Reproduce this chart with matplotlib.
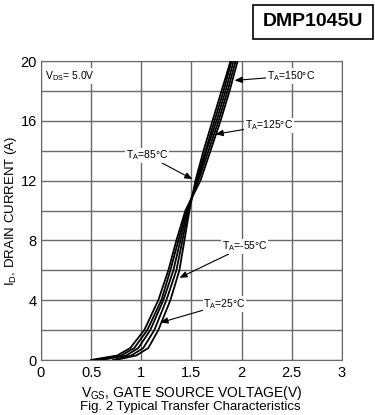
import numpy as np
import matplotlib
matplotlib.use("Agg")
import matplotlib.pyplot as plt
from matplotlib.patches import Rectangle

plt.rcParams["font.family"] = ["Liberation Sans", "DejaVu Sans"]

# drain current levels (A) and gate voltage (V) read for each temperature
id_levels = [0, 0.3, 0.8, 2, 4, 6, 8, 10, 12, 14, 16, 18, 20]
vgs_150 = [0.50, 0.76, 0.89, 1.03, 1.17, 1.27, 1.35, 1.44, 1.59, 1.69, 1.79, 1.88, 1.96]
vgs_125 = [0.52, 0.80, 0.93, 1.06, 1.20, 1.29, 1.37, 1.45, 1.57, 1.67, 1.77, 1.86, 1.94]
vgs_85 = [0.60, 0.85, 0.97, 1.09, 1.22, 1.32, 1.39, 1.46, 1.56, 1.65, 1.75, 1.84, 1.92]
vgs_25 = [0.72, 0.90, 1.02, 1.13, 1.25, 1.35, 1.41, 1.47, 1.55, 1.64, 1.73, 1.82, 1.90]
vgs_m55 = [0.74, 0.95, 1.07, 1.17, 1.29, 1.38, 1.43, 1.48, 1.54, 1.62, 1.71, 1.80, 1.89]

x_ticks = [0, 0.5, 1, 1.5, 2, 2.5, 3]
x_ticklabels = ["0", "0.5", "1", "1.5", "2", "2.5", "3"]
y_ticks = [0, 4, 8, 12, 16, 20]

# label text, text position, arrow tip
labels = [
    ("T$_\\mathregular{A}$=150°C", (2.49, 19.0), (1.93, 18.7)),
    ("T$_\\mathregular{A}$=125°C", (2.27, 15.7), (1.74, 15.1)),
    ("T$_\\mathregular{A}$=85°C", (1.06, 13.7), (1.51, 12.1)),
    ("T$_\\mathregular{A}$=-55°C", (2.03, 7.6), (1.38, 5.5)),
    ("T$_\\mathregular{A}$=25°C", (1.83, 3.75), (1.19, 2.5)),
]

fig = plt.figure(figsize=(3.75, 4.15), dpi=100)
ax = fig.add_axes([0.109, 0.1325, 0.803, 0.7205])

for v in [vgs_150, vgs_125, vgs_85, vgs_25, vgs_m55]:
    ax.plot(v, id_levels, color="black", lw=1.3, solid_joinstyle="round", zorder=3)

ax.set_xlim(0, 3)
ax.set_ylim(0, 20)
ax.set_xticks(x_ticks)
ax.set_xticklabels(x_ticklabels)
ax.set_yticks(y_ticks)
ax.set_yticks(np.arange(0, 21, 2), minor=True)
ax.tick_params(which="both", length=0, labelsize=10.5, pad=4)
ax.tick_params(axis="y", pad=3)
ax.grid(True, which="both", color="#6a6a6a", lw=1)
for s in ax.spines.values():
    s.set_color("#6a6a6a")

ax.set_xlabel("V$_\\mathregular{GS}$, GATE SOURCE VOLTAGE(V)", fontsize=10, labelpad=3)
ax.set_ylabel("I$_\\mathregular{D}$, DRAIN CURRENT (A)", fontsize=9.5)
ax.yaxis.set_label_coords(-0.072, 0.5)

ax.text(0.04, 19.0, "V$_\\mathregular{DS}$= 5.0V", fontsize=7.5, va="center",
        bbox=dict(fc="white", ec="none", pad=0.5), zorder=4)

for txt, pos, tip in labels:
    ax.annotate(txt, xy=tip, xytext=pos, fontsize=7.5, ha="center", va="center",
                bbox=dict(fc="white", ec="none", pad=0.5),
                arrowprops=dict(arrowstyle="-|>,head_length=0.6,head_width=0.25",
                                color="black", lw=0.8, shrinkA=0, shrinkB=0),
                zorder=4)

fig.text(0.507, 0.019, "Fig. 2 Typical Transfer Characteristics", fontsize=9.5,
         ha="center", va="center")

fig.patches.append(Rectangle((253 / 375, 1 - 39 / 415), 120 / 375, 34 / 415,
                             transform=fig.transFigure, fill=False, ec="black", lw=1.2))
fig.text(313 / 375, 1 - 22 / 415, "DMP1045U", fontsize=14, fontweight="bold",
         ha="center", va="center")

fig.savefig("out.png", dpi=100)
